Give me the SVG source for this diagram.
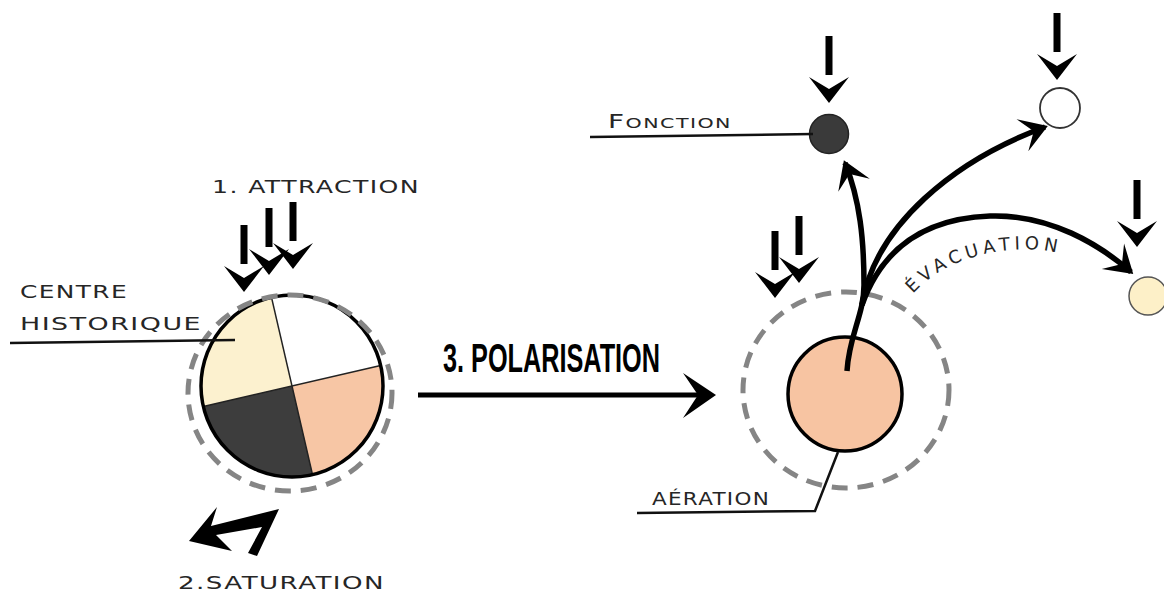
<svg xmlns="http://www.w3.org/2000/svg" width="1164" height="592" viewBox="0 0 1164 592">
<style>
.lbl{font-family:"DejaVu Sans","Liberation Sans",sans-serif;fill:#262626;letter-spacing:1px;}
.lead{stroke:#111;stroke-width:2.5;fill:none;}
.dash{fill:none;stroke:#858585;stroke-width:5;stroke-dasharray:16 10;}
.flow{fill:none;stroke:#000;stroke-width:5.5;stroke-linecap:butt;}
.spoke{stroke:#222;stroke-width:1.5;}
</style>
<defs>
<g id="down">
<rect x="-3.5" y="-67" width="7" height="39" fill="#000"/>
<path d="M0,0 L-20,-26 L0,-14 L20,-26 Z" fill="#000"/>
</g>
<marker id="ah" markerUnits="userSpaceOnUse" markerWidth="60" markerHeight="60" viewBox="-30 -30 60 60" refX="0" refY="0" orient="auto" overflow="visible">
<path d="M3,0 L-24,-17 L-12,0 L-24,17 Z" fill="#000"/>
</marker>
</defs>
<rect width="1164" height="592" fill="#fff"/>

<g id="centre-historique">
<path d="M292,386 L271.5,297.4 A91,91 0 0,0 203.4,406.5 Z" fill="#FCF1CF"/>
<path d="M292,386 L380.6,365.5 A91,91 0 0,0 271.5,297.4 Z" fill="#FFFFFF"/>
<path d="M292,386 L312.5,474.6 A91,91 0 0,0 380.6,365.5 Z" fill="#F7C6A5"/>
<path d="M292,386 L203.4,406.5 A91,91 0 0,0 312.5,474.6 Z" fill="#3D3D3D"/>
<line class="spoke" x1="271.5" y1="297.4" x2="312.5" y2="474.6"/>
<line class="spoke" x1="203.4" y1="406.5" x2="380.6" y2="365.5"/>
<circle cx="292" cy="386" r="91" fill="none" stroke="#000" stroke-width="3.5"/>
<ellipse class="dash" cx="290" cy="393" rx="102" ry="98"/>
</g>

<g id="attraction">
<use href="#down" x="244" y="292"/>
<use href="#down" x="269" y="275"/>
<use href="#down" x="293" y="269"/>
<text class="lbl" x="212" y="193" font-size="18" textLength="208" lengthAdjust="spacingAndGlyphs">1. ATTRACTION</text>
</g>

<g id="label-centre">
<text class="lbl" x="20" y="298" font-size="18" textLength="108" lengthAdjust="spacingAndGlyphs">CENTRE</text>
<text class="lbl" x="20" y="330" font-size="18" textLength="182" lengthAdjust="spacingAndGlyphs">HISTORIQUE</text>
</g>

<g id="saturation">
<polygon points="189,541 217,507 211,526 279,509 257,556 248,553 262,527 216,535 232,551" fill="#000"/>
<text class="lbl" x="178" y="589" font-size="18" textLength="207" lengthAdjust="spacingAndGlyphs">2.SATURATION</text>
</g>

<g id="polarisation">
<text x="443" y="372" font-family="Liberation Sans, Arial, sans-serif" font-weight="bold" font-size="41" textLength="217" lengthAdjust="spacingAndGlyphs" fill="#000">3. POLARISATION</text>
</g>

<g id="aeration">
<ellipse class="dash" cx="846" cy="390" rx="103" ry="98"/>
<circle cx="845" cy="394" r="57" fill="#F7C4A2" stroke="#000" stroke-width="3.5"/>
<use href="#down" x="775" y="298"/>
<use href="#down" x="799" y="283"/>
<text class="lbl" x="652" y="505" font-size="17" textLength="118" lengthAdjust="spacingAndGlyphs">AÉRATION</text>
</g>

<g id="fonction">
<circle cx="829" cy="134" r="19.5" fill="#3A3A3A" stroke="#222" stroke-width="1.5"/>
<use href="#down" x="829" y="103"/>
<text class="lbl" x="608" y="128" font-size="14" textLength="124" lengthAdjust="spacingAndGlyphs"><tspan font-size="19">F</tspan>ONCTION</text>
</g>

<g id="pole-blanc">
<circle cx="1060" cy="108" r="20" fill="#fff" stroke="#333" stroke-width="1.8"/>
<use href="#down" x="1057" y="80"/>
</g>

<g id="pole-creme">
<circle cx="1148" cy="296" r="19" fill="#FDF0C8" stroke="#555" stroke-width="1.5"/>
<use href="#down" x="1137" y="247"/>
</g>

<g id="evacuation-label">
<path id="evacPath" d="M913,294 C932,272 962,257 1000,251 C1025,248 1045,249 1066,255" fill="none"/>
<text class="lbl" font-size="18" style="letter-spacing:4.5px"><textPath href="#evacPath">ÉVACUATION</textPath></text>
</g>

<g id="connectors">
<line class="lead" x1="10" y1="343" x2="235" y2="340"/>
<polyline class="lead" points="590,137 813,134"/>
<polyline class="lead" points="637,513 815,511 838,452"/>
<line x1="418" y1="395" x2="705" y2="395" stroke="#000" stroke-width="5"/>
<path d="M716,395 L683,373 L698,395 L683,418 Z" fill="#000"/>
<path class="flow" d="M847,371 C849,335 864,315 864,285 C864,240 860,200 845,163" marker-end="url(#ah)"/>
<path class="flow" d="M862,305 C875,225 955,160 1045,127" marker-end="url(#ah)"/>
<path class="flow" d="M862,305 C885,240 935,218 990,216 C1050,214 1100,245 1131,272" marker-end="url(#ah)"/>
</g>
</svg>
